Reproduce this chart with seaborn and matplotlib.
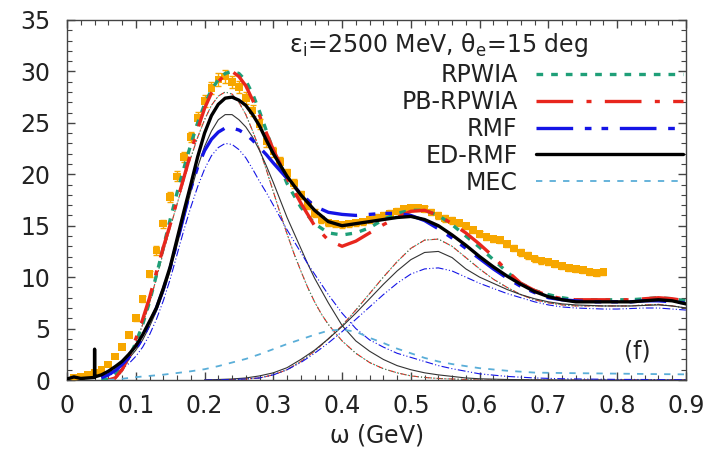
import numpy as np
import pandas as pd
import matplotlib
matplotlib.use("Agg")
import matplotlib.pyplot as plt
import seaborn as sns
from matplotlib.ticker import MultipleLocator

# ---------------- data ----------------
# experimental data (orange squares)
data_x = [0.01, 0.02, 0.03, 0.04, 0.05, 0.06, 0.07, 0.08, 0.09, 0.10,
          0.11, 0.12, 0.13, 0.14, 0.15, 0.16, 0.17, 0.18, 0.19, 0.20,
          0.21, 0.22, 0.23, 0.24, 0.25, 0.26, 0.27, 0.28, 0.29, 0.30,
          0.31, 0.32, 0.33, 0.34, 0.35, 0.36, 0.37, 0.38, 0.39, 0.40,
          0.41, 0.42, 0.43, 0.44, 0.45, 0.46, 0.47, 0.48, 0.49, 0.50,
          0.51, 0.52, 0.53, 0.54, 0.55, 0.56, 0.57, 0.58, 0.59, 0.60,
          0.61, 0.62, 0.63, 0.64, 0.65, 0.66, 0.67, 0.68, 0.69, 0.70,
          0.71, 0.72, 0.73, 0.74, 0.75, 0.76, 0.77, 0.78]
data_y = [0.2, 0.3, 0.5, 0.7, 1.0, 1.5, 2.3, 3.2, 4.4, 6.0,
          7.9, 10.3, 12.6, 15.2, 17.8, 19.8, 21.7, 23.6, 25.5, 27.1,
          28.4, 29.2, 29.5, 29.0, 28.5, 27.4, 26.2, 24.9, 23.2, 22.2,
          21.2, 20.1, 19.1, 18.0, 17.0, 16.2, 15.6, 15.3, 15.2, 15.1,
          15.2, 15.3, 15.4, 15.6, 15.8, 16.0, 16.2, 16.4, 16.6, 16.7,
          16.7, 16.6, 16.3, 16.0, 15.7, 15.5, 15.3, 15.0, 14.6, 14.2,
          13.9, 13.7, 13.6, 13.2, 12.8, 12.4, 12.1, 11.8, 11.6, 11.5,
          11.3, 11.1, 10.9, 10.8, 10.7, 10.5, 10.4, 10.5]
data_err = [0.1, 0.1, 0.1, 0.1, 0.1, 0.1, 0.2, 0.2, 0.2, 0.3,
            0.3, 0.3, 0.4, 0.4, 0.5, 0.5, 0.5, 0.5, 0.6, 0.6,
            0.6, 0.6, 0.6, 0.6, 0.6, 0.6, 0.5, 0.5, 0.5, 0.5,
            0.5, 0.4, 0.4, 0.4, 0.4, 0.4, 0.3, 0.3, 0.3, 0.3,
            0.3, 0.3, 0.3, 0.3, 0.3, 0.3, 0.3, 0.3, 0.3, 0.3,
            0.3, 0.3, 0.3, 0.3, 0.3, 0.3, 0.3, 0.3, 0.3, 0.3,
            0.3, 0.3, 0.3, 0.3, 0.3, 0.3, 0.3, 0.3, 0.3, 0.3,
            0.3, 0.3, 0.3, 0.3, 0.3, 0.3, 0.3, 0.3]

# ED-RMF total (thick black)
edrmf_x = [0.00, 0.01, 0.02, 0.03, 0.04, 0.0401, 0.0402, 0.05, 0.06, 0.07,
           0.08, 0.09, 0.10, 0.11, 0.12, 0.13, 0.14, 0.15, 0.16, 0.17,
           0.18, 0.19, 0.20, 0.21, 0.22, 0.23, 0.24, 0.25, 0.26, 0.27,
           0.28, 0.29, 0.30, 0.32, 0.34, 0.36, 0.38, 0.40, 0.42, 0.44,
           0.46, 0.48, 0.50, 0.52, 0.54, 0.56, 0.58, 0.60, 0.62, 0.64,
           0.66, 0.68, 0.70, 0.72, 0.74, 0.76, 0.78, 0.80, 0.82, 0.84,
           0.86, 0.88, 0.90]
edrmf_y = [0.1, 0.3, 0.15, 0.2, 0.25, 3.0, 0.3, 0.5, 0.85, 1.3,
           1.8, 2.5, 3.3, 4.4, 5.7, 7.0, 8.9, 11.0, 13.7, 16.4,
           19.0, 21.7, 24.0, 25.7, 26.8, 27.4, 27.5, 27.2, 26.7, 25.8,
           24.7, 23.3, 22.0, 19.8, 18.0, 16.5, 15.4, 15.0, 15.2, 15.4,
           15.6, 15.8, 15.9, 15.6, 15.0, 14.1, 13.1, 12.0, 11.0, 10.1,
           9.3, 8.6, 8.1, 7.8, 7.6, 7.6, 7.6, 7.6, 7.6, 7.7,
           7.8, 7.7, 7.4]

# RPWIA total (green dotted)
rpwia_x = [0.05, 0.06, 0.07, 0.08, 0.09, 0.10, 0.11, 0.12, 0.13, 0.14,
           0.15, 0.16, 0.17, 0.18, 0.19, 0.20, 0.21, 0.22, 0.23, 0.24,
           0.25, 0.26, 0.27, 0.28, 0.29, 0.30, 0.32, 0.34, 0.36, 0.38,
           0.40, 0.42, 0.44, 0.46, 0.48, 0.50, 0.52, 0.54, 0.56, 0.58,
           0.60, 0.62, 0.64, 0.66, 0.68, 0.70, 0.72, 0.74, 0.76, 0.78,
           0.80, 0.82, 0.84, 0.86, 0.88, 0.90]
rpwia_y = [0.0, 0.1, 0.5, 1.2, 2.2, 3.6, 5.4, 7.6, 10.2, 12.9,
           15.6, 18.2, 20.6, 22.9, 25.0, 26.8, 28.2, 29.2, 29.8, 30.0,
           29.8, 29.1, 27.8, 26.1, 24.2, 22.3, 19.1, 16.8, 15.2, 14.3,
           14.1, 14.3, 14.8, 15.6, 16.2, 16.5, 16.5, 16.0, 15.1, 14.0,
           12.9, 11.7, 10.5, 9.4, 8.7, 8.3, 8.0, 7.8, 7.8, 7.8,
           7.8, 7.8, 7.9, 8.0, 7.9, 7.7]

# PB-RPWIA total (red dash-dot)
pb_x = [0.06, 0.07, 0.08, 0.09, 0.10, 0.11, 0.12, 0.13, 0.14, 0.15,
        0.16, 0.17, 0.18, 0.19, 0.20, 0.21, 0.22, 0.23, 0.24, 0.25,
        0.26, 0.27, 0.28, 0.29, 0.30, 0.32, 0.34, 0.36, 0.38, 0.40,
        0.42, 0.44, 0.46, 0.48, 0.50, 0.52, 0.54, 0.56, 0.58, 0.60,
        0.62, 0.64, 0.66, 0.68, 0.70, 0.72, 0.74, 0.76, 0.78, 0.80,
        0.82, 0.84, 0.86, 0.88, 0.90]
pb_y = [0.0, 0.2, 1.0, 2.3, 4.0, 5.9, 8.0, 10.5, 12.9, 15.1,
        17.4, 19.7, 22.1, 24.4, 26.4, 27.9, 29.0, 29.7, 30.0, 29.5,
        28.6, 27.2, 25.7, 24.0, 22.4, 19.6, 17.2, 15.0, 13.6, 13.0,
        13.5, 14.3, 15.1, 15.8, 16.4, 16.5, 16.0, 15.2, 14.3, 13.2,
        12.0, 10.6, 9.4, 8.7, 8.2, 7.9, 7.8, 7.8, 7.8, 7.8,
        7.8, 7.9, 8.0, 7.9, 7.7]

# RMF total (blue dash-dot-dot)
rmf_x = [0.05, 0.06, 0.07, 0.08, 0.09, 0.10, 0.11, 0.12, 0.13, 0.14,
         0.15, 0.16, 0.17, 0.18, 0.19, 0.20, 0.21, 0.22, 0.23, 0.24,
         0.25, 0.26, 0.27, 0.28, 0.29, 0.30, 0.32, 0.34, 0.36, 0.38,
         0.40, 0.42, 0.44, 0.46, 0.48, 0.50, 0.52, 0.54, 0.56, 0.58,
         0.60, 0.62, 0.64, 0.66, 0.68, 0.70, 0.72, 0.74, 0.76, 0.78,
         0.80, 0.82, 0.84, 0.86, 0.88, 0.90]
rmf_y = [0.2, 0.5, 0.9, 1.5, 2.2, 3.0, 4.1, 5.5, 7.0, 8.8,
         10.9, 13.4, 16.0, 18.6, 20.7, 22.3, 23.4, 24.1, 24.5, 24.5,
         24.3, 23.9, 23.3, 22.6, 21.9, 21.1, 19.6, 18.1, 16.9, 16.3,
         16.1, 16.0, 16.1, 16.2, 16.2, 16.0, 15.5, 14.7, 13.8, 12.8,
         11.8, 10.8, 9.9, 9.1, 8.5, 8.0, 7.8, 7.7, 7.6, 7.6,
         7.6, 7.6, 7.7, 7.7, 7.6, 7.5]

# MEC (light blue dashed)
mec_x = [0.06, 0.08, 0.10, 0.12, 0.14, 0.16, 0.18, 0.20, 0.22, 0.24,
         0.26, 0.28, 0.30, 0.32, 0.34, 0.36, 0.38, 0.40, 0.42, 0.44,
         0.46, 0.48, 0.50, 0.52, 0.54, 0.56, 0.58, 0.60, 0.64, 0.68,
         0.72, 0.76, 0.80, 0.85, 0.90]
mec_y = [0.0, 0.12, 0.28, 0.4, 0.52, 0.68, 0.85, 1.05, 1.35, 1.7,
         2.05, 2.5, 3.0, 3.5, 3.95, 4.4, 4.8, 4.9, 4.7, 4.1,
         3.6, 3.05, 2.6, 2.15, 1.8, 1.55, 1.35, 1.15, 0.9, 0.72,
         0.68, 0.65, 0.62, 0.58, 0.55]

# Component curves: first (QE) peak
qe_x = [0.05, 0.06, 0.07, 0.08, 0.09, 0.10, 0.11, 0.12, 0.13, 0.14,
        0.15, 0.16, 0.17, 0.18, 0.19, 0.20, 0.21, 0.22, 0.23, 0.24,
        0.25, 0.26, 0.27, 0.28, 0.29, 0.30, 0.31, 0.32, 0.33, 0.34,
        0.35, 0.36, 0.37, 0.38, 0.40, 0.42, 0.44, 0.46, 0.48, 0.50,
        0.52, 0.54, 0.56, 0.58, 0.60, 0.64, 0.68, 0.72, 0.80, 0.90]
qe_edrmf = [0.3, 0.6, 1.0, 1.5, 2.1, 2.9, 3.9, 5.2, 6.7, 8.5,
            10.6, 13.1, 15.7, 18.3, 20.7, 22.7, 24.2, 25.3, 25.8, 25.8,
            25.3, 24.6, 23.6, 22.3, 20.8, 19.2, 17.5, 15.8, 14.3, 12.8,
            11.3, 9.9, 8.7, 7.5, 5.3, 3.8, 2.8, 2.0, 1.4, 1.0,
            0.7, 0.5, 0.35, 0.2, 0.12, 0.05, 0.02, 0.0, 0.0, 0.0]
qe_rpwia = [0.0, 0.0, 0.1, 0.8, 2.0, 3.6, 5.4, 7.5, 9.9, 12.4,
            14.8, 17.1, 19.4, 21.6, 23.6, 25.3, 26.7, 27.6, 28.0, 27.8,
            27.0, 25.8, 24.2, 22.4, 20.4, 18.3, 16.2, 14.2, 12.3, 10.6,
            9.0, 7.6, 6.4, 5.4, 3.8, 2.6, 1.7, 1.1, 0.7, 0.4,
            0.25, 0.15, 0.1, 0.05, 0.0, 0.0, 0.0, 0.0, 0.0, 0.0]
qe_rmf = [0.2, 0.4, 0.7, 1.1, 1.6, 2.3, 3.2, 4.4, 5.9, 7.7,
          9.8, 12.2, 14.6, 16.8, 18.8, 20.5, 21.8, 22.6, 23.0, 22.9,
          22.4, 21.6, 20.5, 19.3, 18.2, 17.0, 15.8, 14.6, 13.5, 12.4,
          11.3, 10.3, 9.3, 8.3, 6.5, 5.0, 3.9, 3.2, 2.6, 2.2,
          1.8, 1.4, 1.1, 0.85, 0.6, 0.35, 0.2, 0.12, 0.06, 0.03]

# Component curves: second (Delta) peak
de_x = [0.20, 0.24, 0.26, 0.28, 0.30, 0.32, 0.34, 0.36, 0.38, 0.40,
        0.42, 0.44, 0.46, 0.48, 0.50, 0.52, 0.54, 0.56, 0.58, 0.60,
        0.62, 0.64, 0.66, 0.68, 0.70, 0.72, 0.74, 0.76, 0.78, 0.80,
        0.82, 0.84, 0.86, 0.88, 0.90]
de_edrmf = [0.0, 0.1, 0.2, 0.4, 0.7, 1.2, 2.0, 2.9, 4.0, 5.2,
            6.5, 7.9, 9.3, 10.6, 11.7, 12.4, 12.5, 11.9, 10.8, 10.0,
            9.4, 8.8, 8.3, 7.9, 7.6, 7.4, 7.3, 7.25, 7.2, 7.2,
            7.2, 7.25, 7.3, 7.2, 7.0]
de_rpwia = [0.0, 0.05, 0.1, 0.2, 0.5, 1.0, 1.8, 2.8, 4.0, 5.3,
            6.8, 8.4, 10.0, 11.5, 12.8, 13.6, 13.7, 13.0, 11.9, 10.8,
            9.8, 9.0, 8.3, 7.8, 7.5, 7.3, 7.2, 7.2, 7.2, 7.2,
            7.2, 7.3, 7.35, 7.2, 7.0]
de_rmf = [0.0, 0.05, 0.1, 0.2, 0.5, 1.0, 1.7, 2.6, 3.6, 4.7,
          5.9, 7.1, 8.3, 9.4, 10.3, 10.8, 10.9, 10.6, 10.0, 9.4,
          8.9, 8.4, 8.0, 7.6, 7.3, 7.1, 7.0, 6.95, 6.9, 6.9,
          6.95, 7.0, 7.0, 6.9, 6.8]

legend_labels = ["RPWIA", "PB-RPWIA", "RMF", "ED-RMF", "MEC"]
x_ticks = [0, 0.1, 0.2, 0.3, 0.4, 0.5, 0.6, 0.7, 0.8, 0.9]
x_ticklabels = ["0", "0.1", "0.2", "0.3", "0.4", "0.5", "0.6", "0.7", "0.8", "0.9"]
y_ticks = [0, 5, 10, 15, 20, 25, 30, 35]

# ---------------- style ----------------
sns.set_theme(style="ticks")
plt.rcParams['font.family'] = ['DejaVu Sans']
plt.rcParams['mathtext.fontset'] = 'dejavusans'

GREEN = "#1f9f78"
RED = "#e8261d"
BLUE = "#1414e6"
BLACK = "#000000"
LIGHTBLUE = "#5aaed8"
ORANGE = "#f7a700"

fig = plt.figure(figsize=(7.13, 4.51), dpi=100)
ax = fig.add_axes([0.094, 0.1574, 0.868, 0.7983])

def draw(x, y, color, lw, ls, z, label=None):
    sns.lineplot(x=x, y=y, ax=ax, color=color, lw=lw, linestyle=ls,
                 estimator=None, sort=False, zorder=z, legend=False)
    line = ax.lines[-1]
    if label is not None:
        line.set_label(label)
    return line

# thin component curves
thin = 0.8
draw(qe_x, qe_rpwia, RED, thin, (0, (6, 2, 1, 2)), 2)
draw(qe_x, qe_rpwia, GREEN, thin, (0, (1, 2)), 2)
draw(qe_x, qe_edrmf, "#333333", thin, '-', 2)
draw(qe_x, qe_rmf, BLUE, thin, (0, (7, 2, 1, 2, 1, 2)), 2)
draw(de_x, de_rpwia, RED, thin, (0, (6, 2, 1, 2)), 2)
draw(de_x, de_rpwia, GREEN, thin, (0, (1, 2)), 2)
draw(de_x, de_edrmf, "#333333", thin, '-', 2)
draw(de_x, de_rmf, BLUE, thin, (0, (7, 2, 1, 2, 1, 2)), 2)

# experimental data
ax.errorbar(data_x, data_y, yerr=data_err, fmt='none', ecolor=ORANGE,
            elinewidth=1.0, capsize=2.5, capthick=1.0, zorder=3)
sns.scatterplot(x=data_x, y=data_y, ax=ax, marker='s', s=30, color=ORANGE,
                edgecolor='none', linewidth=0, zorder=3, legend=False)

# thick total curves
h_rpwia = draw(rpwia_x, rpwia_y, GREEN, 2.4, (0, (2.0, 2.4)), 4, legend_labels[0])
h_pb = draw(pb_x, pb_y, RED, 2.4, (0, (11, 4, 1.5, 4)), 4, legend_labels[1])
h_rmf = draw(rmf_x, rmf_y, BLUE, 2.4, (0, (11, 3.5, 2, 3, 2, 3.5)), 4, legend_labels[2])
h_ed = draw(edrmf_x, edrmf_y, BLACK, 2.4, '-', 5, legend_labels[3])
h_mec = draw(mec_x, mec_y, LIGHTBLUE, 1.3, (0, (3.5, 4)), 4, legend_labels[4])

# axes
ax.set_xlim(0, 0.9)
ax.set_ylim(0, 35)
ax.set_xticks(x_ticks)
ax.set_xticklabels(x_ticklabels)
ax.set_yticks(y_ticks)
ax.xaxis.set_minor_locator(MultipleLocator(0.02))
ax.yaxis.set_minor_locator(MultipleLocator(1))
ax.tick_params(which='both', direction='in', top=True, right=True,
               color='#444444', labelsize=17, labelcolor='#222222')
ax.tick_params(axis='x', which='major', pad=10)
ax.tick_params(axis='y', which='major', pad=12)
ax.tick_params(which='major', length=6, width=1.0)
ax.tick_params(which='minor', length=3.5, width=0.8)
for s in ax.spines.values():
    s.set_color('#444444')
    s.set_linewidth(1.0)
ax.set_xlabel(r'$\mathrm{\omega}$ (GeV)', fontsize=17, color='#222222', labelpad=3)
ax.set_ylabel('')

ax.text(0.54, 32.6, r'$\mathrm{\varepsilon_i}$=2500 MeV, $\mathrm{\theta_e}$=15 deg',
        fontsize=17, ha='center', va='center', color='#222222')
ax.text(0.829, 2.8, '(f)', fontsize=17, ha='center', va='center', color='#222222')

leg = ax.legend(handles=[h_rpwia, h_pb, h_rmf, h_ed, h_mec], loc='upper right',
                bbox_to_anchor=(0.995, 0.88), frameon=False, markerfirst=False,
                fontsize=17, handlelength=6.2, handletextpad=0.8,
                labelspacing=0.12, borderpad=0, borderaxespad=0)
for t in leg.get_texts():
    t.set_color('#222222')

fig.savefig("out.png", dpi=100)
